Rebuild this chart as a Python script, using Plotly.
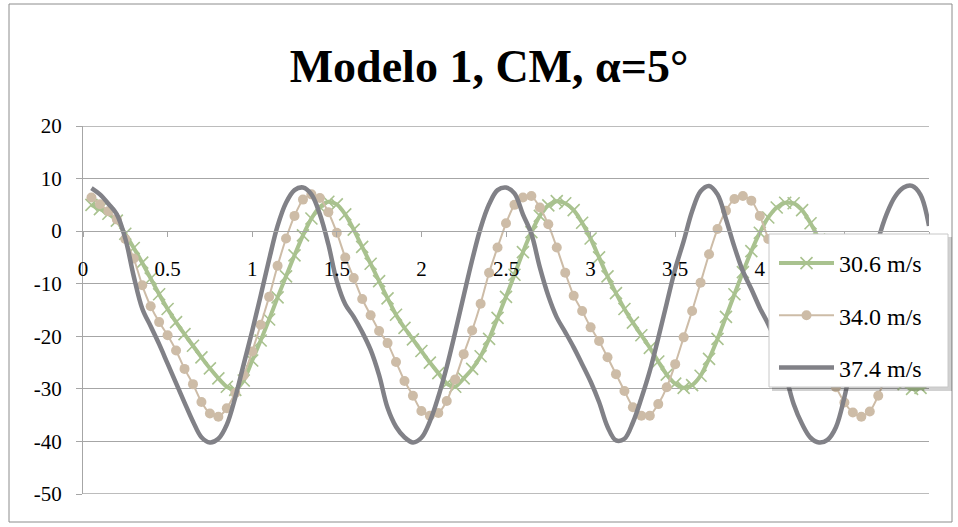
import plotly.graph_objects as go

title_text = "Modelo 1, CM, α=5°"
series_names = ["30.6 m/s", "34.0 m/s", "37.4 m/s"]

x_vals = [round(0.05 * i, 2) for i in range(1, 101)]

v30_6 = [5.0, 4.2, 3.3, 2.0, -0.5, -3.2, -6.0, -9.0, -12.0, -14.8,
         -17.3, -19.6, -21.8, -24.0, -26.1, -28.0, -29.6, -30.2, -28.4, -24.6,
         -20.8, -16.8, -12.6, -8.6, -4.6, -0.8, 2.4, 4.6, 5.6, 5.1,
         3.2, 0.3, -3.0, -6.2, -9.5, -12.8, -15.9, -18.4, -20.6, -22.8,
         -25.0, -27.0, -29.0, -29.6, -28.0, -26.2, -23.8, -20.5, -16.5, -12.5,
         -8.3, -4.0, -0.2, 2.9, 4.9, 5.7, 5.3, 4.0, 1.6, -1.4,
         -5.0, -8.6, -11.8, -14.8, -17.4, -19.8, -22.2, -24.8, -27.3, -29.0,
         -29.8, -29.3, -27.5, -24.3, -20.5, -16.3, -12.0, -7.8, -3.8, -0.3,
         2.6, 4.5, 5.4, 5.3, 4.0, 1.5, -1.6, -5.2, -8.8, -12.0,
         -15.0, -17.6, -20.0, -22.4, -25.0, -27.4, -29.1, -30.0, -29.8, -29.0]

v34_0 = [6.4, 5.1, 3.8, 2.2, -1.5, -5.2, -10.3, -14.3, -17.3, -19.8,
         -22.7, -26.2, -29.1, -32.5, -34.7, -35.3, -33.7, -30.8, -27.4, -22.9,
         -17.8, -12.5, -6.6, -1.4, 2.9, 6.0, 7.0, 6.3, 3.6, -0.3,
         -5.0, -8.9, -12.9, -16.0, -19.0, -21.3, -24.9, -28.5, -31.3, -34.2,
         -35.1, -34.6, -32.3, -28.2, -23.4, -18.9, -13.8, -7.9, -3.1, 1.5,
         5.0, 6.4, 6.7, 4.5, 1.3, -3.1, -7.9, -12.3, -15.2, -18.3,
         -20.9, -24.0, -27.2, -30.4, -33.5, -35.1, -35.1, -32.9, -29.7, -25.3,
         -20.2, -15.2, -9.8, -4.4, 0.4, 3.9, 6.1, 6.7, 5.8, 2.9,
         -1.5, -6.5, -11.5, -15.0, -18.0, -21.0, -24.0, -27.0, -29.7, -32.6,
         -34.5, -35.3, -34.3, -31.3, -27.0, -22.2, -17.0, -11.8, -6.4, -1.8]

v37_4 = [8.2, 7.0, 5.2, 3.2, -1.4, -8.6, -14.7, -18.1, -21.5, -25.2,
         -28.9, -32.6, -36.2, -39.2, -40.2, -39.5, -36.8, -31.6, -25.3, -19.0,
         -12.3, -5.4, 1.0, 5.4, 7.8, 8.3, 7.0, 3.2, -2.5, -9.5,
         -13.9, -16.3, -19.2, -22.6, -27.4, -33.6, -37.2, -39.2, -40.2, -39.3,
         -36.2, -31.5, -25.8, -19.2, -12.3, -5.5, 0.6, 5.1, 7.8, 8.3,
         7.2, 3.2, -0.5, -6.9, -12.3, -16.4, -19.2, -22.1, -25.3, -28.6,
         -32.5, -37.2, -39.8, -39.5, -36.4, -31.8, -26.6, -20.3, -13.7, -7.2,
         -1.9, 3.8, 7.6, 8.6, 7.0, 2.3, -3.0, -7.6, -11.0, -14.6,
         -17.7, -21.5, -27.0, -32.9, -36.7, -39.3, -40.2, -39.7, -37.3, -31.6,
         -23.8, -15.9, -8.3, -1.6, 3.3, 6.6, 8.3, 8.6, 6.9, 1.0]

x_ticks = [0, 0.5, 1, 1.5, 2, 2.5, 3, 3.5, 4, 4.5, 5]
# 4.5 and 5 labels are hidden behind the legend box in the original
x_tick_text = ["0", "0.5", "1", "1.5", "2", "2.5", "3", "3.5", "4", "", ""]
y_ticks = [-50, -40, -30, -20, -10, 0, 10, 20]
y_tick_text = ["-50", "-40", "-30", "-20", "-10", "0", "10", "20"]

GREEN = "#a9c28f"
TAN = "#cdbca7"
GRAY = "#818187"
GRID = "#a6a6a6"
FONT = "Liberation Serif"

W, H = 958, 527
ML, MR, MT, MB = 83, 29, 126, 33
PW, PH = W - ML - MR, H - MT - MB


def px(xp):
    return (xp - ML) / PW


def py(yp):
    return (H - MB - yp) / PH


fig = go.Figure()
fig.add_trace(go.Scatter(
    x=x_vals, y=v30_6, name=series_names[0], mode="lines+markers",
    legendgroup="a",
    line=dict(color=GREEN, width=4, shape="spline", smoothing=0.6),
    marker=dict(symbol="x-thin", size=12, color=GREEN,
                line=dict(color=GREEN, width=1.6)),
))
fig.add_trace(go.Scatter(
    x=x_vals, y=v34_0, name=series_names[1], mode="lines+markers",
    legendgroup="b",
    line=dict(color=TAN, width=2, shape="spline", smoothing=0.6),
    marker=dict(symbol="circle", size=10, color=TAN),
))
fig.add_trace(go.Scatter(
    x=x_vals, y=v37_4, name=series_names[2], mode="lines",
    legendgroup="c",
    line=dict(color=GRAY, width=4.5, shape="spline", smoothing=1.0),
))

shapes = [
    # outer chart border
    dict(type="rect", xref="paper", yref="paper", x0=px(9), x1=px(952),
         y0=py(522), y1=py(4), line=dict(color="#8c8c8c", width=1),
         fillcolor="rgba(0,0,0,0)", layer="below"),
    # top and bottom grid lines (range edges)
    dict(type="line", xref="paper", yref="y", x0=0, x1=1, y0=20, y1=20,
         line=dict(color=GRID, width=1.3), layer="below"),
    dict(type="line", xref="paper", yref="y", x0=0, x1=1, y0=-50, y1=-50,
         line=dict(color=GRID, width=1.3), layer="below"),
    # legend shadow
    dict(type="rect", xref="paper", yref="paper", x0=px(772), x1=px(952),
         y0=py(391), y1=py(237), line=dict(width=0),
         fillcolor="rgba(0,0,0,0.18)", layer="above"),
    # legend box
    dict(type="rect", xref="paper", yref="paper", x0=px(769), x1=px(948),
         y0=py(387), y1=py(234), line=dict(color="#c8c8c8", width=1),
         fillcolor="white", layer="above"),
]

fig.update_layout(
    width=W, height=H,
    margin=dict(l=ML, r=MR, t=MT, b=MB, autoexpand=False),
    paper_bgcolor="white", plot_bgcolor="white",
    font=dict(family=FONT, color="black"),
    title=dict(text="<b>" + title_text + "</b>", x=px(489), xref="paper",
               xanchor="center", y=1 - 66 / H, yref="container",
               yanchor="middle", font=dict(size=46, family=FONT, color="black")),
    shapes=shapes,
    showlegend=True,
    legend=dict(x=px(774), y=py(241), xanchor="left", yanchor="top",
                bgcolor="rgba(0,0,0,0)", borderwidth=0,
                font=dict(size=24, family=FONT, color="black"),
                traceorder="grouped", tracegroupgap=18, itemwidth=55),
    xaxis=dict(range=[0, 5], tickvals=x_ticks, ticktext=x_tick_text,
               showgrid=False, zeroline=False,
               anchor="free", position=50 / 70,
               showline=True, linecolor=GRID, linewidth=1.3,
               ticks="outside", ticklen=5, tickcolor=GRID,
               ticklabelstandoff=14,
               tickfont=dict(size=21, family=FONT, color="black")),
    yaxis=dict(range=[-50, 20], tickvals=y_ticks, ticktext=y_tick_text,
               showgrid=True,
               gridcolor=GRID, gridwidth=1.3, zeroline=False,
               showline=True, linecolor=GRID, linewidth=1.3,
               ticks="outside", ticklen=6, tickcolor=GRID,
               ticklabelstandoff=10,
               tickfont=dict(size=21, family=FONT, color="black")),
)

fig.write_html("out.html", config={"displayModeBar": False},
               post_script="document.body.style.margin='0px';")
